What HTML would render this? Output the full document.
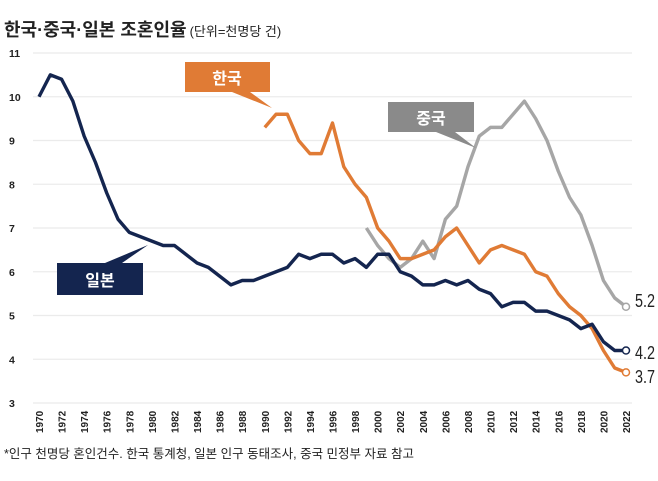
<!DOCTYPE html>
<html><head><meta charset="utf-8"><style>
body{margin:0;background:#fff;}
svg{display:block;font-family:"Liberation Sans","Noto Sans CJK KR",sans-serif;}
</style></head><body>
<svg id="chart" width="658" height="481" viewBox="0 0 658 481">
<text x="4" y="36" font-size="18" font-weight="bold" fill="#222">한국·중국·일본 조혼인율<tspan font-size="13" font-weight="normal" dx="3">(단위=천명당 건)</tspan></text>
<g id="grid"></g><g id="lines"></g><g id="xlabels"></g>
<g><polygon points="185,62 270,62 270,92 250,92 272,108 232,92 185,92" fill="#e07b35"/><text x="227" y="84" font-size="16" font-weight="bold" fill="#fff" text-anchor="middle">한국</text></g>
<g><polygon points="388,102 474,102 474,132 455,132 476,148 436,132 388,132" fill="#8a8a8a"/><text x="431" y="124" font-size="16" font-weight="bold" fill="#fff" text-anchor="middle">중국</text></g>
<g><polygon points="57,263 105,263 148,245 122,263 143,263 143,295 57,295" fill="#14254f"/><text x="100" y="286" font-size="16" font-weight="bold" fill="#fff" text-anchor="middle">일본</text></g>
<text x="635" y="307" font-size="18" fill="#222" textLength="20" lengthAdjust="spacingAndGlyphs">5.2</text>
<text x="635" y="359" font-size="18" fill="#222" textLength="20" lengthAdjust="spacingAndGlyphs">4.2</text>
<text x="635" y="383" font-size="18" fill="#222" textLength="20" lengthAdjust="spacingAndGlyphs">3.7</text>
<text x="4" y="458" font-size="12.5" fill="#222">*인구 천명당 혼인건수. 한국 통계청, 일본 인구 동태조사, 중국 민정부 자료 참고</text>
</svg>
<script>
const yTicks=[3,4,5,6,7,8,9,10,11];
const japanYears=[1970,1971,1972,1973,1974,1975,1976,1977,1978,1979,1980,1981,1982,1983,1984,1985,1986,1987,1988,1989,1990,1991,1992,1993,1994,1995,1996,1997,1998,1999,2000,2001,2002,2003,2004,2005,2006,2007,2008,2009,2010,2011,2012,2013,2014,2015,2016,2017,2018,2019,2020,2021,2022];
const japanValues=[10.0,10.5,10.4,9.9,9.1,8.5,7.8,7.2,6.9,6.8,6.7,6.6,6.6,6.4,6.2,6.1,5.9,5.7,5.8,5.8,5.9,6.0,6.1,6.4,6.3,6.4,6.4,6.2,6.3,6.1,6.4,6.4,6.0,5.9,5.7,5.7,5.8,5.7,5.8,5.6,5.5,5.2,5.3,5.3,5.1,5.1,5.0,4.9,4.7,4.8,4.4,4.2,4.2];
const koreaYears=[1990,1991,1992,1993,1994,1995,1996,1997,1998,1999,2000,2001,2002,2003,2004,2005,2006,2007,2008,2009,2010,2011,2012,2013,2014,2015,2016,2017,2018,2019,2020,2021,2022];
const koreaValues=[9.3,9.6,9.6,9.0,8.7,8.7,9.4,8.4,8.0,7.7,7.0,6.7,6.3,6.3,6.4,6.5,6.8,7.0,6.6,6.2,6.5,6.6,6.5,6.4,6.0,5.9,5.5,5.2,5.0,4.7,4.2,3.8,3.7];
const chinaYears=[1999,2000,2001,2002,2003,2004,2005,2006,2007,2008,2009,2010,2011,2012,2013,2014,2015,2016,2017,2018,2019,2020,2021,2022];
const chinaValues=[7.0,6.6,6.3,6.1,6.3,6.7,6.3,7.2,7.5,8.4,9.1,9.3,9.3,9.6,9.9,9.5,9.0,8.3,7.7,7.3,6.6,5.8,5.4,5.2];
const xTickYears=[];for(let y=1970;y<=2022;y+=2)xTickYears.push(y);
const NS="http://www.w3.org/2000/svg";
const X=y=>39+(y-1970)*(626-39)/52;
const Y=v=>53+(11-v)*43.75;
const grid=document.getElementById('grid'),lines=document.getElementById('lines'),xl=document.getElementById('xlabels');
yTicks.forEach(t=>{
 const l=document.createElementNS(NS,'line');
 l.setAttribute('x1',33);l.setAttribute('x2',632);l.setAttribute('y1',Y(t));l.setAttribute('y2',Y(t));
 l.setAttribute('stroke','#ebebeb');l.setAttribute('stroke-width','1.2');
 
 
 grid.appendChild(l);
 const tx=document.createElementNS(NS,'text');
 tx.setAttribute('x',9);tx.setAttribute('y',Y(t)+4);tx.setAttribute('font-size','10.5');tx.setAttribute('font-weight','bold');tx.setAttribute('fill','#222');
 tx.textContent=t;
 
 
 grid.appendChild(tx);
});
xTickYears.forEach(y=>{
 const tx=document.createElementNS(NS,'text');
 const x=X(y)+4,yy=433;
 tx.setAttribute('x',x);tx.setAttribute('y',yy);tx.setAttribute('transform','rotate(-90 '+x+' '+yy+')');
 tx.setAttribute('font-size','10');tx.setAttribute('font-weight','bold');tx.setAttribute('fill','#222');
 tx.textContent=y;
 
 
 xl.appendChild(tx);
});
function series(years,vals,color,name){
 const p=document.createElementNS(NS,'polyline');
 p.setAttribute('points',years.map((y,i)=>X(y)+','+Y(vals[i])).join(' '));
 p.setAttribute('fill','none');p.setAttribute('stroke',color);p.setAttribute('stroke-width','3.4');p.setAttribute('stroke-linejoin','round');
 
 
 lines.appendChild(p);
 const n=years.length-1;
 const c=document.createElementNS(NS,'circle');
 c.setAttribute('cx',X(years[n]));c.setAttribute('cy',Y(vals[n]));c.setAttribute('r',3.5);
 c.setAttribute('fill','#fff');c.setAttribute('stroke',color);c.setAttribute('stroke-width','1.5');
 
 
 lines.appendChild(c);
}
series(chinaYears,chinaValues,'#a6a6a6','china');
series(koreaYears,koreaValues,'#e07b35','korea');
series(japanYears,japanValues,'#14254f','japan');
</script>
</body></html>
